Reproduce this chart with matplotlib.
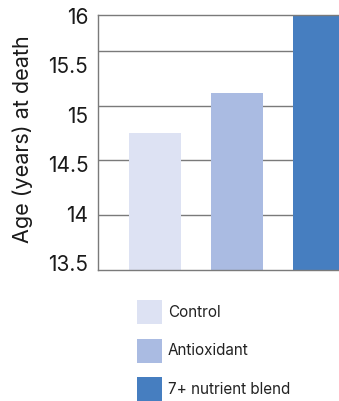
import matplotlib
matplotlib.use("Agg")
import matplotlib.pyplot as plt

categories = ["Control", "Antioxidant", "7+ nutrient blend"]
values = [14.75, 15.12, 16.0]
colors = ["#DDE2F3", "#AABBE2", "#467EC0"]
grid_values = [14.0, 14.5, 15.0, 15.5]
ytick_values = [13.5, 14.0, 14.5, 15.0, 15.5, 16.0]
ytick_labels = ["13.5", "14", "14.5", "15", "15.5", "16"]
ylabel = "Age (years) at death"

plt.rcParams['font.family'] = ['Inter', 'DejaVu Sans']

W, H = 339, 401
fig = plt.figure(figsize=(W / 100, H / 100), dpi=100)
ax = fig.add_axes([98 / W, 1 - 269.5 / H, 1 - 98 / W, (269.5 - 15.3) / H])

x = range(len(categories))
bars = ax.bar(x, values, width=0.634, color=colors, zorder=2)
ax.set_xlim(-0.695, 2.244)
ax.set_ylim(13.5, 15.83)
ax.set_yticks(grid_values)
ax.set_yticklabels([])
ax.tick_params(axis='y', length=0)
ax.set_xticks([])
ax.set_axisbelow(True)
ax.yaxis.grid(True, color="#7a7a7a", linewidth=1.0)
for s in ["left", "bottom", "top"]:
    ax.spines[s].set_color("#7a7a7a")
    ax.spines[s].set_linewidth(1.0)
ax.spines["right"].set_visible(False)

# tick-label column (evenly spaced labels as in the reference)
lab = fig.add_axes([98 / W, 1 - 263 / H, 0.01, (263 - 16) / H])
lab.set_ylim(13.5, 16.0)
lab.set_yticks(ytick_values)
lab.set_yticklabels(ytick_labels, fontsize=15, color="#1a1a1a")
lab.tick_params(axis='y', length=0, pad=7)
lab.set_xticks([])
lab.patch.set_visible(False)
for s in lab.spines.values():
    s.set_visible(False)

fig.text(23 / W, 1 - 139 / H, ylabel, rotation=90, ha="center", va="center",
         fontsize=15.5, color="#1a1a1a")

fig.legend(bars, categories, loc="upper left", bbox_to_anchor=(136.7 / W, 1 - 300 / H),
           frameon=False, fontsize=11, handlelength=1.63, handleheight=2.04,
           labelspacing=0.95, handletextpad=0.4, borderpad=0, borderaxespad=0,
           labelcolor="#222222")

fig.savefig("out.png", dpi=100)
